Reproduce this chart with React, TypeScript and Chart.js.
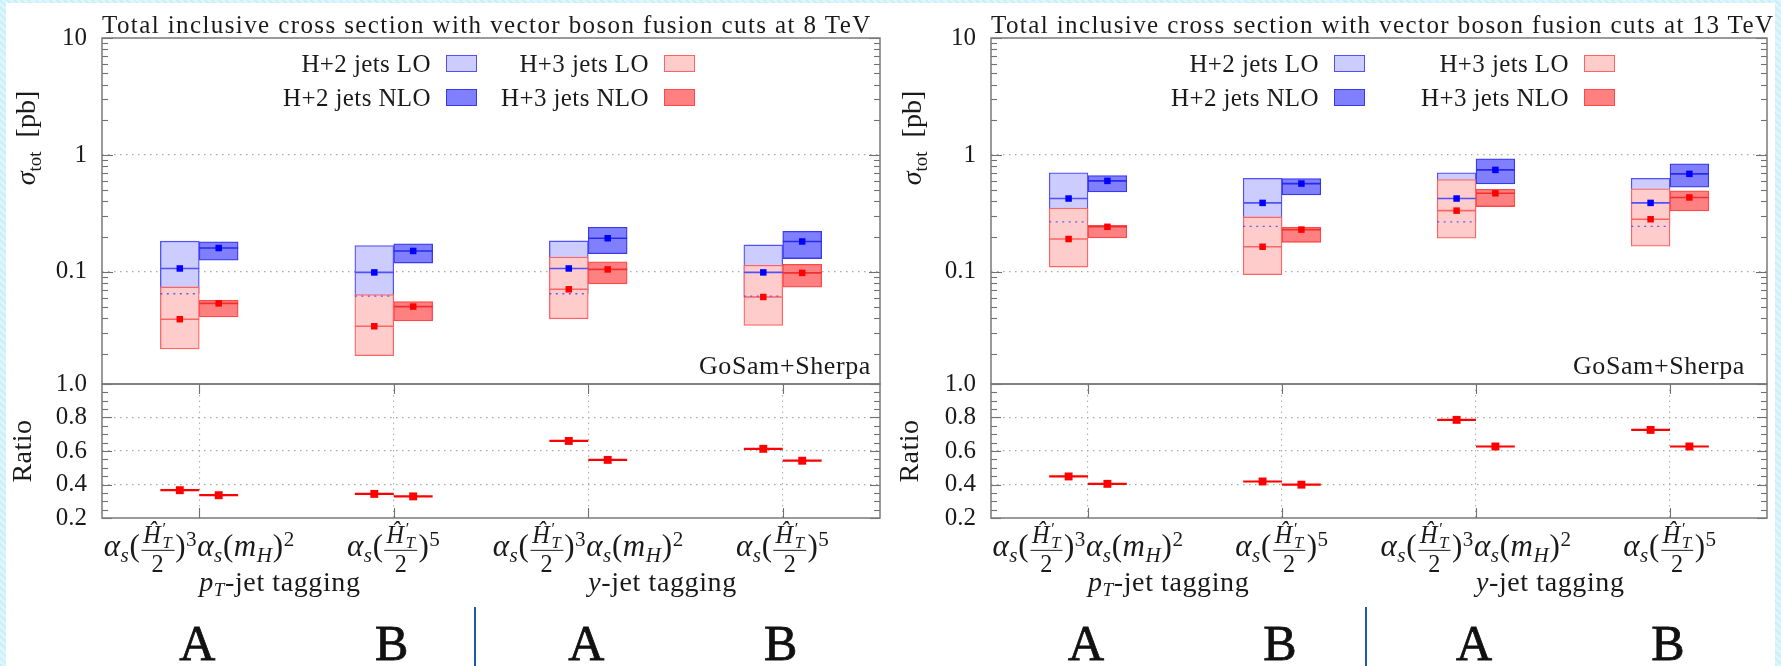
import React, { useEffect, useRef } from 'react';
import { Chart, registerables } from 'chart.js';

Chart.register(...registerables);

const SERIF = '"Liberation Serif", "Times New Roman", serif';

// ---------------- data ----------------
const categories = ['pT-tag A', 'pT-tag B', 'y-tag A', 'y-tag B'];
const scaleChoice = ['A', 'B', 'A', 'B'];
const legendLabels = ['H+2 jets LO', 'H+2 jets NLO', 'H+3 jets LO', 'H+3 jets NLO'];
const panelTitles = [
  'Total inclusive cross section with vector boson fusion cuts at 8 TeV',
  'Total inclusive cross section with vector boson fusion cuts at 13 TeV',
];

// tick labels
const logMajorTicks = [0.1, 1, 10];
const logMajorLabels = ['0.1', '1', '10'];
const logMinorTicks = [0.02, 0.03, 0.04, 0.05, 0.06, 0.07, 0.08, 0.09, 0.2, 0.3, 0.4, 0.5, 0.6, 0.7, 0.8, 0.9, 2, 3, 4, 5, 6, 7, 8, 9];
const ratioMajorTicks = [0.2, 0.4, 0.6, 0.8, 1.0];
const ratioMajorLabels = ['0.2', '0.4', '0.6', '0.8', '1.0'];
const ratioMinorTicks = [0.25, 0.3, 0.35, 0.45, 0.5, 0.55, 0.65, 0.7, 0.75, 0.85, 0.9, 0.95];

// 8 TeV
const lo2Center8 = [0.107, 0.099, 0.107, 0.099];
const lo2Low8 = [0.065, 0.062, 0.065, 0.062];
const lo2High8 = [0.183, 0.168, 0.184, 0.170];
const nlo2Center8 = [0.160, 0.151, 0.194, 0.182];
const nlo2Low8 = [0.126, 0.119, 0.143, 0.130];
const nlo2High8 = [0.181, 0.174, 0.241, 0.222];
const lo3Center8 = [0.0394, 0.0343, 0.071, 0.061];
const lo3Low8 = [0.0219, 0.0192, 0.0397, 0.0348];
const lo3High8 = [0.0744, 0.064, 0.134, 0.114];
const nlo3Center8 = [0.0538, 0.0505, 0.105, 0.098];
const nlo3Low8 = [0.0412, 0.0381, 0.079, 0.074];
const nlo3High8 = [0.0572, 0.0557, 0.122, 0.116];
const ratioLO8 = [0.366, 0.344, 0.66, 0.613];
const ratioNLO8 = [0.336, 0.329, 0.547, 0.542];

// 13 TeV
const lo2Center13 = [0.424, 0.389, 0.424, 0.389];
const lo2Low13 = [0.268, 0.245, 0.268, 0.245];
const lo2High13 = [0.703, 0.632, 0.703, 0.632];
const nlo2Center13 = [0.600, 0.569, 0.745, 0.689];
const nlo2Low13 = [0.483, 0.456, 0.566, 0.530];
const nlo2High13 = [0.667, 0.628, 0.927, 0.839];
const lo3Center13 = [0.191, 0.164, 0.334, 0.282];
const lo3Low13 = [0.110, 0.0948, 0.194, 0.166];
const lo3High13 = [0.352, 0.295, 0.616, 0.513];
const nlo3Center13 = [0.243, 0.230, 0.470, 0.433];
const nlo3Low13 = [0.195, 0.179, 0.362, 0.332];
const nlo3High13 = [0.250, 0.241, 0.509, 0.493];
const ratioLO13 = [0.448, 0.418, 0.786, 0.726];
const ratioNLO13 = [0.404, 0.399, 0.627, 0.627];

const PANELS = [
  {
    title: panelTitles[0],
    lo2C: lo2Center8, lo2Lo: lo2Low8, lo2Hi: lo2High8,
    nlo2C: nlo2Center8, nlo2Lo: nlo2Low8, nlo2Hi: nlo2High8,
    lo3C: lo3Center8, lo3Lo: lo3Low8, lo3Hi: lo3High8,
    nlo3C: nlo3Center8, nlo3Lo: nlo3Low8, nlo3Hi: nlo3High8,
    rLO: ratioLO8, rNLO: ratioNLO8,
  },
  {
    title: panelTitles[1],
    lo2C: lo2Center13, lo2Lo: lo2Low13, lo2Hi: lo2High13,
    nlo2C: nlo2Center13, nlo2Lo: nlo2Low13, nlo2Hi: nlo2High13,
    lo3C: lo3Center13, lo3Lo: lo3Low13, lo3Hi: lo3High13,
    nlo3C: nlo3Center13, nlo3Lo: nlo3Low13, nlo3Hi: nlo3High13,
    rLO: ratioLO13, rNLO: ratioNLO13,
  },
];

// ---------------- layout (positions only) ----------------
const GEOMS = [
  { plotLeft: 102, plotRight: 880, legendBoxes: [446, 664], sigmaX: 26, ratioX: 22, divider: 475, gosamGap: 9 },
  { plotLeft: 991, plotRight: 1767, legendBoxes: [1334, 1584], sigmaX: 912, ratioX: 909, divider: 1366, gosamGap: 22 },
];
const PLOT_TOP = 38;
const PLOT_MID = 384;
const PLOT_BOTTOM = 518;
const AXIS_W = 102;
const BOX_W = 0.2;

const COLORS = {
  lo2Fill: '#ccccff', lo2Line: '#5050ff',
  nlo2Fill: '#8080ff', nlo2Line: '#3838f0',
  lo3Fill: '#ffcccc', lo3Line: '#ff6464',
  nlo3Fill: '#ff8080', nlo3Line: '#ff4848',
  blue: '#0000ff', red: '#ff0000',
};

// ---------------- helpers ----------------
const catCenters = categories.map((_, i) => i + 0.5);
const sideOffset = (side: 'LO' | 'NLO') => (side === 'LO' ? -BOX_W / 2 : BOX_W / 2);

function segPoints(vals: number[], side: 'LO' | 'NLO') {
  const pts: any[] = [];
  vals.forEach((v, i) => {
    const xm = catCenters[i] + sideOffset(side);
    pts.push({ x: xm - BOX_W / 2, y: v }, { x: xm + BOX_W / 2, y: v }, { x: xm + BOX_W / 2, y: null });
  });
  return pts;
}
function markPoints(vals: number[], side: 'LO' | 'NLO') {
  return vals.map((v, i) => ({ x: catCenters[i] + sideOffset(side), y: v }));
}
function boxPoints(lo: number[], hi: number[], side: 'LO' | 'NLO') {
  return lo.map((l, i) => ({ x: catCenters[i] + sideOffset(side), y: [l, hi[i]] }));
}

const framePlugin = {
  id: 'frameTicks',
  afterDraw(chart: any, _args: any, opts: any) {
    const { ctx, chartArea: a, scales } = chart;
    ctx.save();
    const seg = (x1: number, y1: number, x2: number, y2: number) => {
      ctx.beginPath(); ctx.moveTo(x1, y1); ctx.lineTo(x2, y2); ctx.stroke();
    };
    ctx.strokeStyle = '#707070';
    ctx.lineWidth = 1.1;
    const ys = scales.y;
    const doY = (vals: number[], len: number) => vals.forEach((v) => {
      const p = Math.round(ys.getPixelForValue(v)) + 0.5;
      seg(a.left, p, a.left + len, p);
      seg(a.right, p, a.right - len, p);
    });
    doY(opts.yMinor, opts.minorLen);
    doY(opts.yMajor, opts.majorLen);
    if (opts.xTicks) {
      const xs = scales.x;
      opts.xTicks.forEach((v: number) => {
        const p = Math.round(xs.getPixelForValue(v)) + 0.5;
        seg(p, a.bottom, p, a.bottom - opts.majorLen);
        seg(p, a.top, p, a.top + opts.majorLen);
      });
    }
    ctx.strokeStyle = '#7a7a7a';
    ctx.lineWidth = 1.5;
    ctx.strokeRect(a.left, a.top, a.right - a.left, a.bottom - a.top);
    ctx.restore();
  },
};

function isIn(list: number[], v: number) {
  return list.some((t) => Math.abs(t - v) < 1e-9 * Math.max(1, Math.abs(t)));
}

const xLinear = (gridOn: boolean) => ({
  type: 'linear', min: 0, max: categories.length, offset: false, display: gridOn,
  afterBuildTicks: (s: any) => { s.ticks = catCenters.map((v) => ({ value: v })); },
  afterFit: (s: any) => { s.height = 0; s.paddingLeft = 0; s.paddingRight = 0; },
  ticks: { display: false },
  grid: { drawTicks: false, color: '#b0b0b0', lineWidth: 1.1, offset: false },
  border: { display: false, dash: [1.5, 4] },
});

function topConfig(p: any) {
  const bar = (data: any[], order: number, bg: string, bd: string) => ({
    type: 'bar', data, order, grouped: false,
    backgroundColor: bg, borderColor: bd, borderWidth: 1.3, borderSkipped: false,
    categoryPercentage: 1, barPercentage: 1,
  });
  const line = (data: any[], color: string, width: number, dash: number[], order: number) => ({
    type: 'line', data, borderColor: color, borderWidth: width,
    borderDash: dash, pointRadius: 0, fill: false, spanGaps: false, order, tension: 0,
  });
  const mark = (data: any[], color: string, order: number) => ({
    type: 'line', data, showLine: false, pointStyle: 'rect',
    pointRadius: 4.6, pointBackgroundColor: color, pointBorderColor: color, pointBorderWidth: 0, order,
  });
  return {
    type: 'bar',
    data: {
      datasets: [
        bar(boxPoints(p.lo2Lo, p.lo2Hi, 'LO'), 2, COLORS.lo2Fill, COLORS.lo2Line),
        bar(boxPoints(p.lo3Lo, p.lo3Hi, 'LO'), 1, COLORS.lo3Fill, COLORS.lo3Line),
        bar(boxPoints(p.nlo2Lo, p.nlo2Hi, 'NLO'), 2, COLORS.nlo2Fill, COLORS.nlo2Line),
        bar(boxPoints(p.nlo3Lo, p.nlo3Hi, 'NLO'), 1, COLORS.nlo3Fill, COLORS.nlo3Line),
        line(segPoints(p.lo2Lo, 'LO'), 'rgba(70,70,255,0.85)', 1.3, [2, 4.5], 0),
        line(segPoints(p.lo2C, 'LO'), COLORS.lo2Line, 1.6, [], 0),
        line(segPoints(p.lo3C, 'LO'), COLORS.lo3Line, 1.6, [], 0),
        line(segPoints(p.nlo2C, 'NLO'), '#2a2ae8', 1.6, [], 0),
        line(segPoints(p.nlo3C, 'NLO'), '#f03030', 1.6, [], 0),
        mark(markPoints(p.lo2C, 'LO'), COLORS.blue, -1),
        mark(markPoints(p.lo3C, 'LO'), COLORS.red, -1),
        mark(markPoints(p.nlo2C, 'NLO'), COLORS.blue, -1),
        mark(markPoints(p.nlo3C, 'NLO'), COLORS.red, -1),
      ],
    },
    options: {
      animation: false, responsive: false, maintainAspectRatio: false, devicePixelRatio: 1, events: [],
      layout: { padding: { left: 0, right: 10, top: PLOT_TOP, bottom: 10 } },
      plugins: {
        legend: { display: false }, tooltip: { enabled: false }, title: { display: false },
        frameTicks: { yMajor: logMajorTicks, yMinor: logMinorTicks, majorLen: 11, minorLen: 6 },
      },
      scales: {
        x: xLinear(false),
        y: {
          type: 'logarithmic', min: 0.011, max: 10, stacked: false, beginAtZero: false,
          afterBuildTicks: (s: any) => { s.ticks = [...logMinorTicks, ...logMajorTicks].sort((a, b) => a - b).map((v) => ({ value: v })); },
          afterFit: (s: any) => { s.width = AXIS_W; s.paddingTop = 0; s.paddingBottom = 0; },
          ticks: {
            autoSkip: false, padding: 15, color: '#1a1a1a', font: { family: SERIF, size: 25 },
            callback: (v: number) => { const k = logMajorTicks.findIndex((t) => Math.abs(t - v) < 1e-9 * t); return k >= 0 ? logMajorLabels[k] : ''; },
          },
          grid: {
            drawTicks: false, lineWidth: 1.2,
            color: (c: any) => (c.tick && isIn([0.1, 1], c.tick.value) ? '#a8a8a8' : 'rgba(0,0,0,0)'),
          },
          border: { display: false, dash: [1.5, 4.5] },
        },
      },
    },
    plugins: [framePlugin],
  };
}

function ratioConfig(p: any) {
  const line = (data: any[]) => ({
    data, borderColor: COLORS.red, borderWidth: 2.2, pointRadius: 0, fill: false, spanGaps: false, tension: 0, order: 1,
  });
  const mark = (data: any[]) => ({
    data, showLine: false, pointStyle: 'rect', pointRadius: 5.6,
    pointBackgroundColor: COLORS.red, pointBorderColor: COLORS.red, pointBorderWidth: 0, order: 0,
  });
  return {
    type: 'line',
    data: {
      datasets: [
        line(segPoints(p.rLO, 'LO')), line(segPoints(p.rNLO, 'NLO')),
        mark(markPoints(p.rLO, 'LO')), mark(markPoints(p.rNLO, 'NLO')),
      ],
    },
    options: {
      animation: false, responsive: false, maintainAspectRatio: false, devicePixelRatio: 1, events: [],
      layout: { padding: { left: 0, right: 10, top: 14, bottom: 14 } },
      plugins: {
        legend: { display: false }, tooltip: { enabled: false },
        frameTicks: { yMajor: ratioMajorTicks, yMinor: ratioMinorTicks, majorLen: 10, minorLen: 6, xTicks: catCenters },
      },
      scales: {
        x: xLinear(true),
        y: {
          type: 'linear', min: 0.2, max: 1.0,
          afterBuildTicks: (s: any) => { s.ticks = [...ratioMinorTicks, ...ratioMajorTicks].sort((a, b) => a - b).map((v) => ({ value: v })); },
          afterFit: (s: any) => { s.width = AXIS_W; s.paddingTop = 0; s.paddingBottom = 0; },
          ticks: {
            autoSkip: false, padding: 15, color: '#1a1a1a', font: { family: SERIF, size: 25 },
            callback: (v: number) => { const k = ratioMajorTicks.findIndex((t) => Math.abs(t - v) < 1e-9); return k >= 0 ? ratioMajorLabels[k] : ''; },
          },
          grid: {
            drawTicks: false, lineWidth: 1.2,
            color: (c: any) => (c.tick && isIn([0.4, 0.6, 0.8], c.tick.value) ? '#a8a8a8' : 'rgba(0,0,0,0)'),
          },
          border: { display: false, dash: [1.5, 4.5] },
        },
      },
    },
    plugins: [framePlugin],
  };
}

function ChartCanvas({ build, left, top, width, height }: any) {
  const ref = useRef<HTMLCanvasElement>(null);
  useEffect(() => {
    const chart = new Chart(ref.current as HTMLCanvasElement, build());
    return () => chart.destroy();
  }, []);
  return <canvas ref={ref} width={width} height={height} style={{ position: 'absolute', left, top, width, height }} />;
}

// ---------------- text helpers ----------------
function T({ x, y, align = 'left', size = 24, children, style }: any) {
  const tx = align === 'left' ? '0' : align === 'center' ? '-50%' : '-100%';
  return (
    <div style={{
      position: 'absolute', left: x, top: y, transform: `translate(${tx}, -50%)`, fontFamily: SERIF,
      fontSize: size, lineHeight: 1, whiteSpace: 'nowrap', color: '#1a1a1a', ...style,
    }}>{children}</div>
  );
}
const subS: any = { fontSize: '0.68em', verticalAlign: '-0.28em', lineHeight: 0 };
const supS: any = { fontSize: '0.68em', verticalAlign: '0.5em', lineHeight: 0 };

const AlphaS = () => (<><i>α</i><span style={subS}><i>s</i></span></>);
const HT = () => (
  <><i>Ĥ</i><span style={{ display: 'inline-block', fontSize: '0.68em', lineHeight: 0.85, verticalAlign: '-0.3em', marginLeft: 1 }}>
    <span style={{ display: 'block' }}>′</span><span style={{ display: 'block' }}><i>T</i></span>
  </span></>
);
const Frac = ({ num, den }: any) => (
  <span style={{ display: 'inline-flex', flexDirection: 'column', alignItems: 'center', verticalAlign: 'middle', fontSize: '0.78em', lineHeight: 1.05, margin: '0 1px' }}>
    <span style={{ padding: '0 2px' }}>{num}</span>
    <span style={{ alignSelf: 'stretch', borderTop: '1.3px solid #1a1a1a' }} />
    <span>{den}</span>
  </span>
);
function ScaleLabel({ kind }: any) {
  return (
    <>
      <AlphaS />(<Frac num={<HT />} den="2" />)<span style={supS}>{kind === 'A' ? '3' : '5'}</span>
      {kind === 'A' && (<><AlphaS />(<i>m</i><span style={subS}><i>H</i></span>)<span style={supS}>2</span></>)}
    </>
  );
}

function PanelView({ panel, geom }: any) {
  const canvasLeft = geom.plotLeft - AXIS_W;
  const canvasW = geom.plotRight - canvasLeft + 10;
  const catW = (geom.plotRight - geom.plotLeft) / categories.length;
  const cx = (i: number) => geom.plotLeft + catCenters[i] * catW;
  const legendRows = [63, 97];
  const legendFills = [
    [COLORS.lo2Fill, COLORS.lo2Line], [COLORS.nlo2Fill, COLORS.nlo2Line],
    [COLORS.lo3Fill, COLORS.lo3Line], [COLORS.nlo3Fill, COLORS.nlo3Line],
  ];
  return (
    <>
      <ChartCanvas build={() => topConfig(panel)} left={canvasLeft} top={0} width={canvasW} height={PLOT_MID + 10} />
      <ChartCanvas build={() => ratioConfig(panel)} left={canvasLeft} top={PLOT_MID - 14} width={canvasW} height={PLOT_BOTTOM - PLOT_MID + 28} />
      <T x={geom.plotLeft} y={24} size={25} style={{ letterSpacing: '1.4px' }}>{panel.title}</T>
      <T x={geom.sigmaX} y={138} align="center" size={28} style={{ transform: 'translate(-50%, -50%) rotate(-90deg)' }}>
        <i>σ</i><span style={{ fontSize: '0.68em', verticalAlign: '-0.3em', lineHeight: 0 }}>tot</span>&nbsp;&nbsp;[pb]
      </T>
      <T x={geom.ratioX} y={451} align="center" size={28} style={{ transform: 'translate(-50%, -50%) rotate(-90deg)', letterSpacing: '0.5px' }}>Ratio</T>
      {legendLabels.map((lab, j) => {
        const col = j < 2 ? 0 : 1;
        const row = j % 2;
        const bx = geom.legendBoxes[col];
        const y = legendRows[row];
        return (
          <React.Fragment key={lab}>
            <T x={bx - 15} y={y} align="right" size={25} style={{ letterSpacing: '0.4px' }}>{lab}</T>
            <div style={{ position: 'absolute', left: bx, top: y - 8.5, width: 31, height: 17, boxSizing: 'border-box', background: legendFills[j][0], border: `1.5px solid ${legendFills[j][1]}` }} />
          </React.Fragment>
        );
      })}
      <T x={geom.plotRight - geom.gosamGap} y={366} align="right" size={26} style={{ letterSpacing: '0.6px' }}>GoSam+Sherpa</T>
      {scaleChoice.map((k, i) => (
        <T key={'s' + i} x={cx(i)} y={549} align="center" size={31} style={{ letterSpacing: '0.6px' }}><ScaleLabel kind={k} /></T>
      ))}
      <T x={cx(0)} y={582} size={28} style={{ letterSpacing: '0.6px' }}><i>p</i><span style={subS}><i>T</i></span>-jet tagging</T>
      <T x={cx(2)} y={582} size={28} style={{ letterSpacing: '0.6px' }}><i>y</i>-jet tagging</T>
      {scaleChoice.map((k, i) => (
        <T key={'ab' + i} x={cx(i) - 2} y={643} align="center" size={50} style={{ WebkitTextStroke: '0.8px #111', color: '#111' }}>{k}</T>
      ))}
      <div style={{ position: 'absolute', left: geom.divider - 1, top: 607, width: 2, height: 70, background: '#1f5aa6' }} />
    </>
  );
}

export default function App() {
  return (
    <div style={{
      position: 'fixed', left: 0, top: 0, width: 1781, height: 666, overflow: 'hidden',
      background: 'repeating-linear-gradient(45deg, #cbeef8 0px, #cbeef8 2px, #ddf6fc 2px, #ddf6fc 5px)',
    }}>
      <div style={{ position: 'absolute', left: 6, top: 3, right: 6, bottom: 0, background: '#ffffff' }} />
      {PANELS.map((p, k) => <PanelView key={k} panel={p} geom={GEOMS[k]} />)}
    </div>
  );
}
